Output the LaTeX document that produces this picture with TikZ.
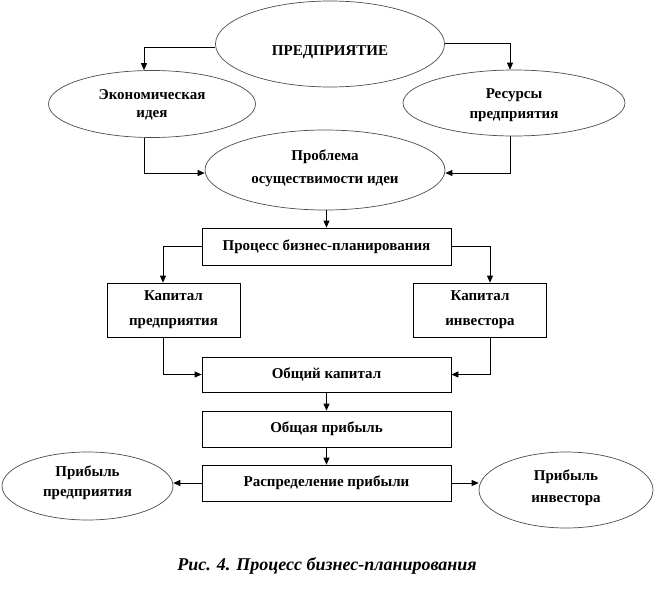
\documentclass[tikz,border=0pt]{standalone}
\usepackage{fontspec}
\setmainfont{Liberation Serif}
\usetikzlibrary{shapes.geometric,arrows.meta}
\begin{document}
\begin{tikzpicture}[x=1pt,y=-1pt,
  lbl/.style={font=\bfseries\fontsize{15}{18}\selectfont, align=center, inner sep=0pt},
  ell/.style={draw=black!70, line width=0.7pt, ellipse, inner sep=0pt},
  box/.style={draw, line width=0.8pt, rectangle, inner sep=0pt, lbl},
  arr/.style={line width=0.8pt, -{Triangle[length=7pt,width=6pt]}}]
\useasboundingbox (0,0) rectangle (654,589);

% ellipses
\node[ell, minimum width=229pt, minimum height=86pt,
  label={[lbl,yshift=-8pt]center:ПРЕДПРИЯТИЕ}] (top) at (330,44) {};
\node[ell, minimum width=207pt, minimum height=67pt,
  label={[lbl,yshift=-1pt]center:Экономическая\\идея}] (econ) at (152,104) {};
\node[ell, minimum width=222pt, minimum height=66pt,
  label={[lbl,yshift=-2pt]center:Ресурсы\\[2pt]предприятия}] (res) at (514,103) {};
\node[ell, minimum width=240pt, minimum height=80pt,
  label={[lbl,yshift=1.5pt]center:Проблема\\[5pt]осуществимости идеи}] (prob) at (325,170) {};

% boxes
\node[box, minimum width=249pt, minimum height=37pt] (proc) at (326.5,246.5) {Процесс бизнес-планирования};
\node[box, minimum width=133pt, minimum height=54pt] (kapP) at (173.5,310) {Капитал\\[7pt]предприятия};
\node[box, minimum width=133pt, minimum height=54pt] (kapI) at (480,310) {Капитал\\[7pt]инвестора};
\node[box, minimum width=249pt, minimum height=35pt] (obk) at (326.5,374.5) {Общий капитал};
\node[box, minimum width=249pt, minimum height=36pt] (obp) at (326.5,429) {Общая прибыль};
\node[box, minimum width=249pt, minimum height=36pt] (rasp) at (326.5,483) {Распределение прибыли};

% bottom ellipses
\node[ell, minimum width=171pt, minimum height=68pt,
  label={[lbl,yshift=3pt]center:Прибыль\\[2pt]предприятия}] (leftE) at (87.5,486) {};
\node[ell, minimum width=174pt, minimum height=76pt,
  label={[lbl,yshift=2pt]center:Прибыль\\[4pt]инвестора}] (rightE) at (566,490) {};

% caption
\node[font=\bfseries\itshape\fontsize{18}{21}\selectfont, inner sep=0pt] (cap) at (327,566) {Рис. 4. Процесс бизнес-планирования};

% connectors
\draw[arr] ([yshift=-3pt]top.west) -| ([xshift=-8pt]econ.north);
\draw[arr] ([yshift=1pt]top.east) -| ([xshift=-4pt]res.north);
\draw[arr] ([xshift=-8pt]econ.south) |- ([yshift=-3pt]prob.west);
\draw[arr] ([xshift=-4pt]res.south) |- ([yshift=-3pt]prob.east);
\draw[arr] (prob.south -| proc.north) -- (proc.north);
\draw[arr] (proc.west) -| ([xshift=-10.5pt]kapP.north);
\draw[arr] (proc.east) -| ([xshift=10pt]kapI.north);
\draw[arr] ([xshift=-10.5pt]kapP.south) |- (obk.west);
\draw[arr] ([xshift=10pt]kapI.south) |- (obk.east);
\draw[arr] (obk.south) -- (obp.north);
\draw[arr] (obp.south) -- (rasp.north);
\draw[arr] (rasp.west) -- (rasp.west -| leftE.east);
\draw[arr] (rasp.east) -- (rasp.east -| rightE.west);
\end{tikzpicture}
\end{document}
